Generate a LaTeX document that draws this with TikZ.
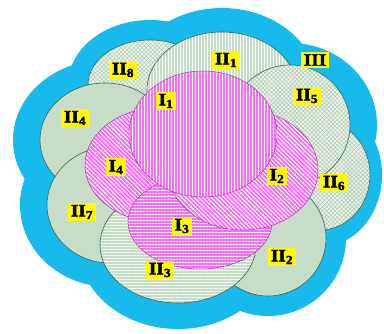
\documentclass[tikz,border=0pt]{standalone}
\usepackage{fontspec}
\setmainfont{Liberation Serif}
\newfontfamily\tagfont[FakeStretch=1.1, BoldFont={Liberation Serif Bold}, BoldFeatures={FakeBold=2.5}]{Liberation Serif}
\usetikzlibrary{patterns.meta}

\definecolor{cloudblue}{RGB}{22,186,235}
\definecolor{zonegreen}{RGB}{200,221,199}
\definecolor{zonepale}{RGB}{238,243,236}
\definecolor{zonehatch}{RGB}{178,205,180}
\definecolor{zoneline}{RGB}{55,105,85}
\definecolor{corepink}{RGB}{250,108,250}
\definecolor{coreline}{RGB}{165,60,165}
\definecolor{tagyellow}{RGB}{255,250,0}

\tikzset{
  zone/.style={draw=zoneline, line width=0.6pt},
  zoneplain/.style={zone, fill=zonegreen},
  zonevert/.style={zone, preaction={fill=zonegreen},
    pattern={Lines[angle=90,distance=3pt,line width=1pt]}, pattern color=white!85!zonegreen},
  zonehorz/.style={zone, preaction={fill=zonegreen},
    pattern={Lines[angle=0,distance=3pt,line width=1pt]}, pattern color=white!85!zonegreen},
  zonecross/.style={zone, preaction={fill=zonepale},
    pattern={Hatch[angle=45,distance=3pt,line width=0.6pt]}, pattern color=zonehatch},
  core/.style={draw=coreline, line width=0.5pt, preaction={fill=corepink}},
  corevert/.style={core, pattern={Lines[angle=90,distance=3pt,line width=0.9pt]}, pattern color=white},
  corehorz/.style={core, pattern={Lines[angle=0,distance=3pt,line width=0.9pt]}, pattern color=white},
  corediag/.style={core, pattern={Lines[angle=-45,distance=3pt,line width=1pt]}, pattern color=white},
  tag/.style={fill=tagyellow, inner xsep=2.5pt, inner ysep=2pt,
    font=\tagfont\fontsize{17.5}{17.5}\selectfont\bfseries}
}

\begin{document}
\begin{tikzpicture}[x=1pt, y=-1pt]
  \useasboundingbox (0,0) rectangle (384,334);

  % cloud III behind everything
  \begin{scope}[fill=cloudblue]
    \fill (150,85) ellipse [x radius=82pt, y radius=65pt];
    \fill (222,90) ellipse [x radius=97pt, y radius=82pt];
    \fill (290,125) ellipse [x radius=87pt, y radius=82pt];
    \fill (320,175) ellipse [x radius=62pt, y radius=72pt];
    \fill (105,140) ellipse [x radius=92pt, y radius=80pt];
    \fill (110,205) ellipse [x radius=90pt, y radius=82pt];
    \fill (268,238) ellipse [x radius=78pt, y radius=78pt];
    \fill (178,245) ellipse [x radius=100pt, y radius=84pt];
  \end{scope}

  % zones II
  \path[zonecross] (150,85) ellipse [x radius=62pt, y radius=45pt];   % II8
  \path[zonevert]  (222,90) ellipse [x radius=75pt, y radius=58pt];   % II1
  \path[zonecross] (320,175) ellipse [x radius=50pt, y radius=55pt];  % II6
  \path[zonecross] (290,125) ellipse [x radius=60pt, y radius=60pt];  % II5
  \path[zoneplain] (105,140) ellipse [x radius=65pt, y radius=57pt];  % II4
  \path[zoneplain] (110,205) ellipse [x radius=63pt, y radius=58pt];  % II7
  \path[zoneplain] (268,238) ellipse [x radius=58pt, y radius=58pt];  % II2
  \path[zonehorz]  (178,245) ellipse [x radius=78pt, y radius=58pt];  % II3

  % zones I
  \path[corediag] (163,165) ellipse [x radius=78pt, y radius=58pt];   % I4
  \path[corehorz] (200,222) ellipse [x radius=72pt, y radius=47pt];   % I3
  \path[corediag] (243,170) ellipse [x radius=75pt, y radius=60pt];   % I2
  \path[corevert] (203,134) ellipse [x radius=74pt, y radius=63pt];   % I1

  % labels
  \node[tag] (lIII) at (315,60)  {III};
  \node[tag] (lII1) at (226,60)  {II\textsubscript{1}};
  \node[tag] (lII8) at (123,70)  {II\textsubscript{8}};
  \node[tag] (lII5) at (307,96)  {II\textsubscript{5}};
  \node[tag] (lII4) at (75,118)  {II\textsubscript{4}};
  \node[tag] (lII6) at (334,183) {II\textsubscript{6}};
  \node[tag] (lII7) at (82,212)  {II\textsubscript{7}};
  \node[tag] (lII3) at (160,270) {II\textsubscript{3}};
  \node[tag] (lII2) at (282,257) {II\textsubscript{2}};
  \node[tag] (lI1)  at (166,101) {I\textsubscript{1}};
  \node[tag] (lI4)  at (116,167) {I\textsubscript{4}};
  \node[tag] (lI2)  at (277,176) {I\textsubscript{2}};
  \node[tag] (lI3)  at (182,226) {I\textsubscript{3}};
\end{tikzpicture}
\end{document}
